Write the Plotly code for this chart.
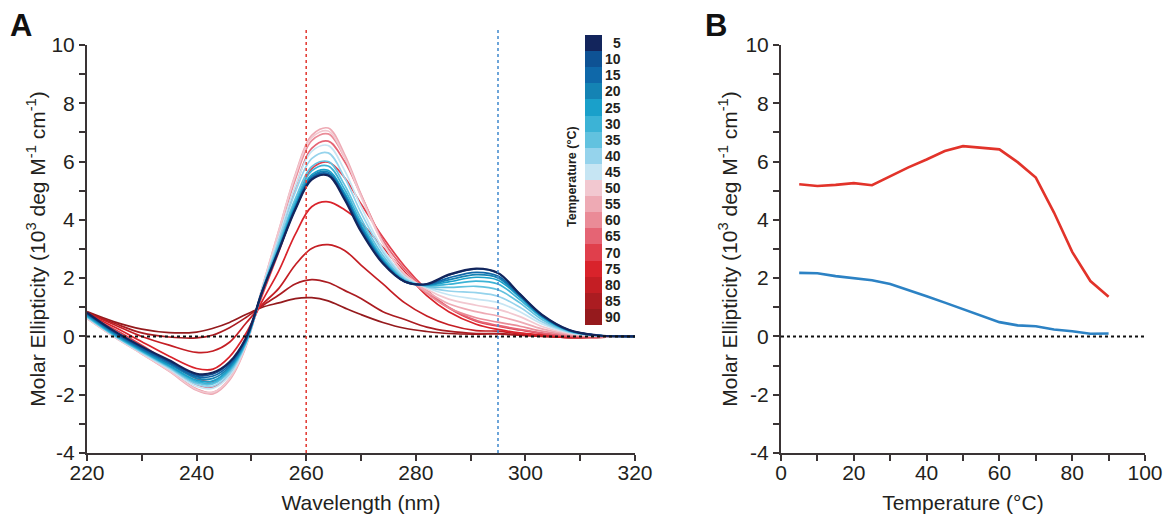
import plotly.graph_objects as go

# wavelength grid (nm) for the CD spectra in panel A
wavelength = [220, 225, 230, 235, 240, 243, 246, 249, 252, 255, 258, 261, 264,
              267, 270, 274, 278, 282, 286, 291, 295, 299, 303, 308, 313, 320]

# molar ellipticity (10^3 deg M-1 cm-1), one list per temperature
mdeg_5 = [0.82, 0.18, -0.35, -0.82, -1.28, -1.24, -0.88, -0.05, 1.55, 2.95, 4.35, 5.38, 5.52, 4.70, 3.60, 2.50, 1.88, 1.80, 2.12, 2.33, 2.18, 1.45, 0.75, 0.22, 0.04, 0.0]
mdeg_10 = [0.80, 0.16, -0.38, -0.86, -1.33, -1.29, -0.92, -0.08, 1.55, 2.96, 4.37, 5.40, 5.54, 4.74, 3.64, 2.52, 1.88, 1.79, 2.10, 2.32, 2.17, 1.45, 0.74, 0.22, 0.04, 0.0]
mdeg_15 = [0.78, 0.13, -0.42, -0.90, -1.38, -1.36, -0.98, -0.10, 1.56, 2.98, 4.40, 5.44, 5.59, 4.80, 3.70, 2.55, 1.88, 1.78, 2.01, 2.20, 2.07, 1.41, 0.72, 0.21, 0.04, 0.0]
mdeg_20 = [0.75, 0.10, -0.45, -0.95, -1.43, -1.44, -1.04, -0.14, 1.56, 3.00, 4.44, 5.49, 5.64, 4.86, 3.76, 2.58, 1.89, 1.77, 1.94, 2.12, 2.01, 1.38, 0.70, 0.20, 0.04, 0.0]
mdeg_25 = [0.72, 0.07, -0.48, -1.00, -1.50, -1.52, -1.10, -0.18, 1.57, 3.03, 4.50, 5.55, 5.70, 4.92, 3.82, 2.62, 1.90, 1.76, 1.87, 2.03, 1.93, 1.34, 0.68, 0.20, 0.04, 0.0]
mdeg_30 = [0.70, 0.05, -0.50, -1.02, -1.55, -1.58, -1.15, -0.20, 1.58, 3.08, 4.60, 5.68, 5.85, 5.05, 3.92, 2.68, 1.92, 1.75, 1.79, 1.90, 1.80, 1.26, 0.65, 0.19, 0.04, 0.0]
mdeg_35 = [0.68, 0.03, -0.52, -1.05, -1.60, -1.63, -1.20, -0.22, 1.60, 3.18, 4.72, 5.83, 6.00, 5.20, 4.05, 2.78, 1.95, 1.72, 1.68, 1.72, 1.60, 1.15, 0.58, 0.17, 0.03, 0.0]
mdeg_40 = [0.66, 0.02, -0.55, -1.08, -1.65, -1.70, -1.28, -0.25, 1.63, 3.30, 4.95, 6.10, 6.30, 5.45, 4.25, 2.90, 2.00, 1.70, 1.56, 1.50, 1.38, 1.00, 0.50, 0.15, 0.03, 0.0]
mdeg_45 = [0.64, 0.00, -0.57, -1.12, -1.72, -1.78, -1.35, -0.28, 1.66, 3.42, 5.15, 6.35, 6.55, 5.70, 4.45, 3.00, 2.05, 1.67, 1.43, 1.28, 1.16, 0.85, 0.43, 0.13, 0.02, 0.0]
mdeg_50 = [0.62, -0.02, -0.60, -1.18, -1.82, -1.92, -1.45, -0.32, 1.70, 3.62, 5.50, 6.82, 7.05, 6.15, 4.80, 3.20, 2.15, 1.62, 1.28, 1.07, 0.93, 0.68, 0.34, 0.10, 0.02, 0.0]
mdeg_55 = [0.62, -0.02, -0.60, -1.20, -1.85, -1.97, -1.50, -0.35, 1.70, 3.64, 5.55, 6.90, 7.15, 6.25, 4.88, 3.22, 2.12, 1.55, 1.12, 0.85, 0.70, 0.50, 0.26, 0.08, 0.01, 0.0]
mdeg_60 = [0.63, 0.00, -0.58, -1.17, -1.80, -1.92, -1.45, -0.30, 1.66, 3.52, 5.38, 6.72, 6.95, 6.15, 4.85, 3.22, 2.10, 1.48, 0.98, 0.64, 0.49, 0.35, 0.18, 0.05, 0.00, 0.0]
mdeg_65 = [0.66, 0.08, -0.50, -1.08, -1.65, -1.75, -1.30, -0.25, 1.56, 3.32, 5.10, 6.45, 6.70, 6.00, 4.85, 3.30, 2.30, 1.55, 1.00, 0.55, 0.38, 0.24, 0.12, 0.02, -0.01, 0.0]
mdeg_70 = [0.72, 0.25, -0.30, -0.90, -1.45, -1.55, -1.10, -0.15, 1.42, 2.90, 4.45, 5.75, 5.98, 5.45, 4.55, 3.40, 2.40, 1.60, 0.98, 0.52, 0.35, 0.22, 0.10, 0.00, -0.02, 0.0]
mdeg_75 = [0.78, 0.32, -0.18, -0.68, -1.10, -1.12, -0.70, 0.10, 1.22, 2.25, 3.50, 4.45, 4.62, 4.35, 3.90, 3.05, 2.20, 1.40, 0.85, 0.42, 0.24, 0.12, 0.05, -0.03, -0.03, 0.0]
mdeg_80 = [0.80, 0.40, 0.00, -0.30, -0.55, -0.50, -0.20, 0.45, 1.10, 1.65, 2.45, 3.02, 3.15, 2.95, 2.45, 1.80, 1.15, 0.70, 0.40, 0.20, 0.18, 0.08, 0.02, -0.04, -0.03, 0.0]
mdeg_85 = [0.82, 0.45, 0.12, -0.02, -0.05, 0.05, 0.30, 0.65, 1.05, 1.42, 1.80, 1.95, 1.85, 1.58, 1.30, 0.85, 0.58, 0.32, 0.18, 0.10, 0.09, 0.04, 0.00, -0.04, -0.03, 0.0]
mdeg_90 = [0.85, 0.50, 0.25, 0.13, 0.15, 0.28, 0.48, 0.75, 1.00, 1.15, 1.30, 1.33, 1.22, 0.98, 0.75, 0.48, 0.28, 0.17, 0.10, 0.08, 0.10, 0.05, 0.02, -0.02, -0.02, 0.0]

temperatures = [5, 10, 15, 20, 25, 30, 35, 40, 45, 50, 55, 60, 65, 70, 75, 80, 85, 90]
spectra = [mdeg_5, mdeg_10, mdeg_15, mdeg_20, mdeg_25, mdeg_30, mdeg_35, mdeg_40, mdeg_45,
           mdeg_50, mdeg_55, mdeg_60, mdeg_65, mdeg_70, mdeg_75, mdeg_80, mdeg_85, mdeg_90]
temp_colors = ['#13255c', '#0e5294', '#0f68a9', '#1483b4', '#1aa0ca', '#3cb3d6', '#62c2df',
               '#95d3ec', '#c6e5f3', '#f2c8d0', '#eeaab4', '#ea8b97', '#e56474', '#e03f4c',
               '#d9232b', '#c41e24', '#ab1c21', '#951a1d']

# panel B: melting curves at the two marked wavelengths
marker_wavelengths = [260, 295]
ellipticity_260 = [5.22, 5.16, 5.20, 5.26, 5.19, 5.50, 5.80, 6.07, 6.36, 6.53, 6.48, 6.42, 5.98, 5.45, 4.25, 2.90, 1.90, 1.36]
ellipticity_295 = [2.18, 2.17, 2.07, 2.01, 1.93, 1.80, 1.60, 1.38, 1.16, 0.93, 0.70, 0.49, 0.38, 0.35, 0.24, 0.18, 0.09, 0.10]

# y tick labels (plain hyphen minus, as in the figure)
y_tickvals = [-4, -2, 0, 2, 4, 6, 8, 10]
y_ticktext = ['-4', '-2', '0', '2', '4', '6', '8', '10']

W, H = 1165, 514
FONT = 'Liberation Sans, Arial, sans-serif'
INK = '#231f20'
AXIS = '#3a3435'
ytitle = 'Molar Ellipticity (10<sup>3</sup> deg M<sup>-1</sup> cm<sup>-1</sup>)'

fig = go.Figure()

# spectra, hottest first so the cold (navy) curve sits on top
for t, vals, col in reversed(list(zip(temperatures, spectra, temp_colors))):
    fig.add_trace(go.Scatter(
        x=wavelength, y=vals, mode='lines', name=f'{t} °C',
        line=dict(color=col, width=2.2 if t == 5 else 1.7, shape='spline', smoothing=1.0),
        xaxis='x', yaxis='y', showlegend=False, hoverinfo='skip'))

fig.add_trace(go.Scatter(x=temperatures, y=ellipticity_260, mode='lines',
                         line=dict(color='#e2332a', width=2.6), xaxis='x2', yaxis='y2',
                         showlegend=False))
fig.add_trace(go.Scatter(x=temperatures, y=ellipticity_295, mode='lines',
                         line=dict(color='#2c82c4', width=2.6), xaxis='x2', yaxis='y2',
                         showlegend=False))

# colour key as a one-column heatmap
n = len(temperatures)
fig.add_trace(go.Heatmap(
    x=[0], y=temperatures, z=[[k] for k in range(n)],
    colorscale=[[k / (n - 1), c] for k, c in enumerate(temp_colors)],
    zmin=0, zmax=n - 1, showscale=False, xaxis='x3', yaxis='y3', hoverinfo='skip'))


def px_x(p):
    return p / W


def px_y(p):
    return 1 - p / H


ydom = [px_y(453), px_y(45)]
yrange = [-4, 10]

axis_common = dict(
    showline=True, linewidth=2, linecolor=AXIS, ticks='outside', ticklen=6, tickwidth=2,
    tickcolor=AXIS, showgrid=False, zeroline=False,
    tickfont=dict(family=FONT, size=21, color=INK),
)
title_font = dict(family=FONT, size=21, color=INK)
minor_x = dict(dtick=10, ticks='outside', ticklen=6, tickwidth=2, tickcolor=AXIS)
minor_y = dict(dtick=1, ticks='outside', ticklen=6, tickwidth=2, tickcolor=AXIS)

fig.update_layout(
    width=W, height=H, template='none',
    paper_bgcolor='white', plot_bgcolor='white',
    margin=dict(l=0, r=0, t=0, b=0),
    font=dict(family=FONT, color=INK),
    xaxis=dict(domain=[px_x(87), px_x(635)], range=[220, 320], tick0=220, dtick=20,
               minor=minor_x, anchor='y', ticklabelstandoff=-6,
               title=dict(text='Wavelength (nm)', font=title_font, standoff=12),
               **axis_common),
    yaxis=dict(domain=ydom, range=yrange, tickmode='array', tickvals=y_tickvals,
               ticktext=y_ticktext, minor=minor_y, anchor='x',
               title=dict(text=ytitle, font=title_font, standoff=0),
               **axis_common),
    xaxis2=dict(domain=[px_x(781), px_x(1145)], range=[0, 100], dtick=20,
                minor=minor_x, anchor='y2', ticklabelstandoff=-6,
                title=dict(text='Temperature (°C)', font=title_font, standoff=12),
                **axis_common),
    yaxis2=dict(domain=ydom, range=yrange, tickmode='array', tickvals=y_tickvals,
                ticktext=y_ticktext, minor=minor_y, anchor='x2',
                title=dict(text=ytitle, font=title_font, standoff=2),
                **axis_common),
    xaxis3=dict(domain=[px_x(585), px_x(602)], visible=False, fixedrange=True),
    yaxis3=dict(domain=[px_y(325), px_y(35)], range=[92.5, 2.5], visible=False,
                anchor='x3', fixedrange=True),
)

# dotted reference lines
dot_top = (10.6 - yrange[0]) / (yrange[1] - yrange[0])
shapes = [
    dict(type='line', xref='x', yref='y', x0=220, x1=320, y0=0, y1=0, layer='above',
         line=dict(color='#111111', width=2, dash='dot')),
    dict(type='line', xref='x2', yref='y2', x0=0, x1=100, y0=0, y1=0, layer='above',
         line=dict(color='#111111', width=2, dash='dot')),
]
for wl_mark, col in zip(marker_wavelengths, ['#e3413a', '#4a8fd0']):
    shapes.append(dict(type='line', xref='x', yref='y domain', x0=wl_mark, x1=wl_mark,
                       y0=0, y1=dot_top, layer='above',
                       line=dict(color=col, width=1.6, dash='dot')))
fig.update_layout(shapes=shapes)

annotations = [
    dict(text='<b>A</b>', xref='paper', yref='paper', x=px_x(8), y=px_y(6),
         xanchor='left', yanchor='top', showarrow=False,
         font=dict(family=FONT, size=31, color='#111111')),
    dict(text='<b>B</b>', xref='paper', yref='paper', x=px_x(703), y=px_y(6),
         xanchor='left', yanchor='top', showarrow=False,
         font=dict(family=FONT, size=31, color='#111111')),
    dict(text='<b>Temperature (°C)</b>', xref='paper', yref='paper', x=px_x(572), y=px_y(177),
         textangle=-90, showarrow=False, xanchor='center', yanchor='middle',
         font=dict(family=FONT, size=12.5, color=INK)),
]
for t in temperatures:
    annotations.append(dict(text=f'<b>{t}</b>', xref='paper', yref='y3', x=px_x(623), y=t,
                            xanchor='right', yanchor='middle', showarrow=False,
                            font=dict(family=FONT, size=14, color=INK)))
fig.update_layout(annotations=annotations)

# drop the page's default body margin so the figure fills the window exactly
fig.write_html('out.html', config={'displayModeBar': False},
               post_script="document.body.style.margin = '0';")
